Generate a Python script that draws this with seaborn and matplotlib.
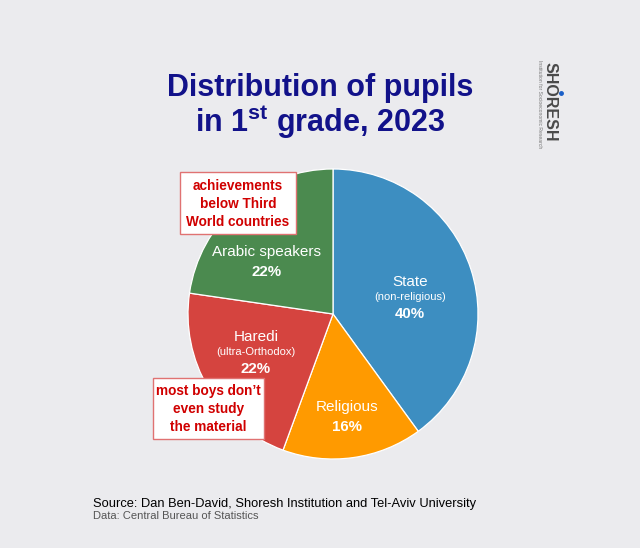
import matplotlib
matplotlib.use("Agg")
import matplotlib.pyplot as plt
from matplotlib.patches import Rectangle
from matplotlib.lines import Line2D
import seaborn as sns

# ---- data ----
categories = ["State", "Religious", "Haredi", "Arabic speakers"]
subtitles = ["(non-religious)", "", "(ultra-Orthodox)", ""]
shares = [40.0, 15.6, 21.7, 22.7]
share_labels = ["40%", "16%", "22%", "22%"]
colors = ["#3d8ec1", "#ff9a00", "#d5443f", "#4b8a4f"]
notes = ["achievements\nbelow Third\nWorld countries",
         "most boys don\u2019t\neven study\nthe material"]

sns.set_theme(style="white")
plt.rcParams["font.family"] = ["Liberation Sans", "DejaVu Sans"]
plt.rcParams["mathtext.fontset"] = "custom"
plt.rcParams["mathtext.bf"] = "Liberation Sans:bold"
plt.rcParams["mathtext.rm"] = "Liberation Sans"

BG = "#ebebee"
W, H = 640, 548
fig = plt.figure(figsize=(6.4, 5.48), dpi=100, facecolor=BG)


def P(x, y):
    return x / W, 1 - y / H


# ---- pie ----
cx, cy, r = 333, 314, 145
ax = fig.add_axes([(cx - r) / W, (H - cy - r) / H, 2 * r / W, 2 * r / H])
palette = sns.color_palette(colors)
ax.pie(shares, colors=palette, startangle=90, counterclock=False, radius=1,
       wedgeprops=dict(edgecolor="white", linewidth=0.9))
ax.set_xlim(-1, 1)
ax.set_ylim(-1, 1)
ax.axis("off")

# label layout (pixel positions of the name line, subtitle line, percentage line)
label_pos = [
    ((410, 282), (410, 297), (410, 314)),
    ((347, 407), None, (347, 427)),
    ((256, 337), (256, 352), (256, 369)),
    ((267, 252), None, (267, 272)),
]
for name, sub, pct, pos in zip(categories, subtitles, share_labels, label_pos):
    npos, spos, ppos = pos
    fig.text(*P(*npos), name, color="white", fontsize=11, ha="center", va="center")
    if sub:
        fig.text(*P(*spos), sub, color="white", fontsize=8, ha="center", va="center")
    fig.text(*P(*ppos), pct, color="white", fontsize=10.8, fontweight="bold",
             ha="center", va="center")

# ---- annotation boxes ----
boxes = [((180, 172, 296, 234), (238, 204)), ((153, 378, 264, 439), (208.5, 409))]
for note, (rect, tpos) in zip(notes, boxes):
    x0, y0, x1, y1 = rect
    fig.add_artist(Rectangle((x0 / W, 1 - y1 / H), (x1 - x0) / W, (y1 - y0) / H,
                             transform=fig.transFigure, facecolor="white",
                             edgecolor="#e07272", linewidth=1.0, zorder=2))
    fig.text(*P(*tpos), note, color="#d00000", fontsize=9.8, fontweight="bold",
             ha="center", va="center", linespacing=1.38, zorder=3)

# ---- title ----
TITLE = "#12128a"
fig.text(*P(320, 96), "Distribution of pupils", fontsize=22, fontweight="bold",
         color=TITLE, ha="center", va="baseline")
fig.text(*P(320, 132), r"in 1$^{\mathbf{st}}$ grade, 2023", fontsize=22,
         fontweight="bold", color=TITLE, ha="center", va="baseline")

# ---- logo ----
fig.text(*P(550, 101.5), "SHORESH", rotation=-90, fontsize=11.5, fontweight="bold",
         color="#4a4a4a", ha="center", va="center")
fig.text(*P(540, 104), "Institution for Socioeconomic Research", rotation=-90,
         fontsize=3.6, color="#777777", ha="center", va="center")
fig.add_artist(Line2D([561 / W], [1 - 93 / H], marker="o", markersize=2.5,
                      color="#1a5fc8", transform=fig.transFigure))

# ---- footer ----
fig.text(*P(93, 507), "Source: Dan Ben-David, Shoresh Institution and Tel-Aviv University",
         fontsize=9.3, color="black", ha="left", va="baseline")
fig.text(*P(93, 519), "Data: Central Bureau of Statistics",
         fontsize=8, color="#555555", ha="left", va="baseline")

fig.savefig("out.png", dpi=100, facecolor=BG)
